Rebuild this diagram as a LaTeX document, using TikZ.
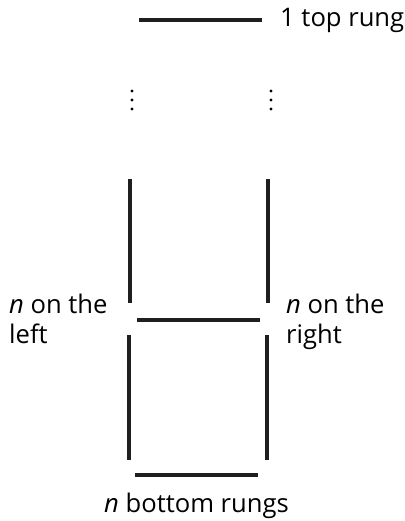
\documentclass[tikz,border=0pt]{standalone}
\usepackage{fontspec}
\setmainfont{Open Sans}
\begin{document}
\begin{tikzpicture}[x=1pt,y=1pt,
  rung/.style={line width=4pt,draw=black!88},
  post/.style={line width=4.6pt,draw=black!88},
  lbl/.style={inner sep=0pt,anchor=base west,font=\fontsize{25.6}{30}\selectfont},
  vdot/.style={fill=black,draw=none}]
\useasboundingbox (0,0) rectangle (404,-521);
% top rung
\coordinate (t1) at (139,-20);
\coordinate (t2) at (262,-20);
\draw[rung] (t1) -- (t2);
\node[lbl] (toplbl) at (280,-27) {1 top rung};
% dots
\foreach \yy in {91,100,109}{
  \fill[vdot] (132,-\yy) circle (1.7);
  \fill[vdot] (271,-\yy) circle (1.7);
}
% upper posts
\coordinate (lu1) at (130,-179);
\coordinate (lu2) at (130,-303);
\coordinate (ru1) at (268,-179);
\coordinate (ru2) at (268,-303);
\draw[post] (lu1) -- (lu2);
\draw[post] (ru1) -- (ru2);
% middle rung
\coordinate (m1) at (137,-320);
\coordinate (m2) at (260,-320);
\draw[rung] (m1) -- (m2);
% lower posts
\coordinate (ll1) at (129,-335);
\coordinate (ll2) at (129,-460);
\coordinate (rl1) at (267,-335);
\coordinate (rl2) at (267,-460);
\draw[post] (ll1) -- (ll2);
\draw[post] (rl1) -- (rl2);
% bottom rung
\coordinate (b1) at (135,-475);
\coordinate (b2) at (258,-475);
\draw[rung] (b1) -- (b2);
% labels
\node[lbl] (left1) at (9,-313) {\textit{n} on the};
\node[lbl] (left2) at (9,-343) {left};
\node[lbl] (right1) at (286,-313) {\textit{n} on the};
\node[lbl] (right2) at (286,-343) {right};
\node[lbl] (botlbl) at (104,-512) {\textit{n} bottom rungs};
\end{tikzpicture}
\end{document}
